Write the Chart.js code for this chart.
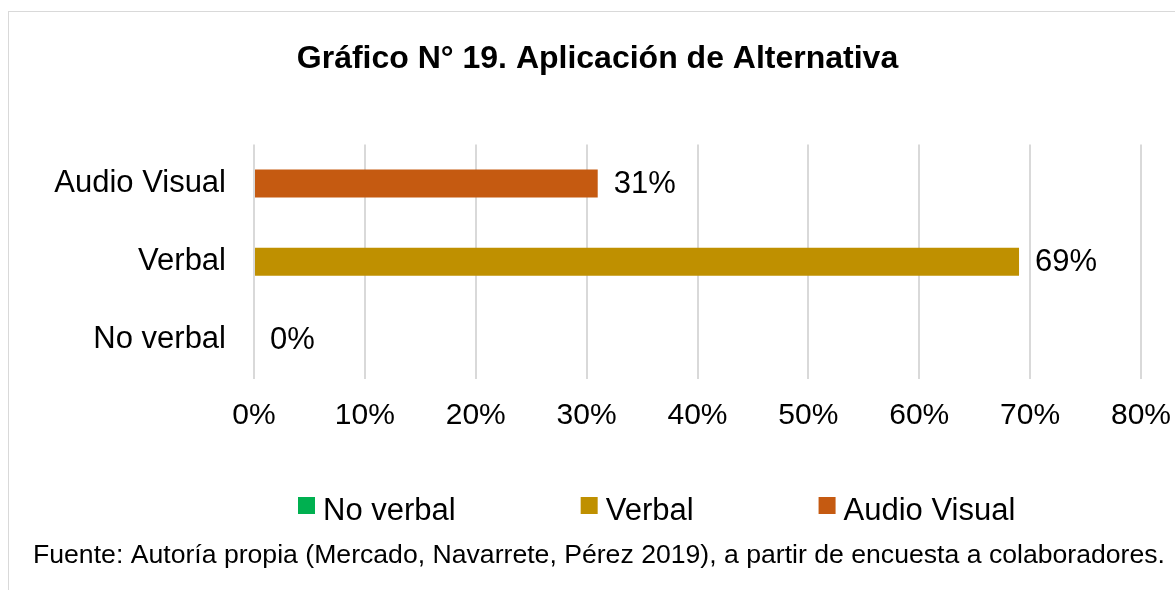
<!DOCTYPE html>
<html>
<head>
<meta charset="utf-8">
<script src="https://cdn.jsdelivr.net/npm/chart.js@4.4.1/dist/chart.umd.min.js"></script>
<style>
  html, body { margin: 0; padding: 0; background: #fff; overflow: hidden; }
  #wrap { position: relative; width: 1175px; height: 590px; }
  #frame { position: absolute; left: 8px; top: 11px; width: 2000px; height: 2000px;
           border: 1px solid #d9d9d9; box-sizing: border-box; }
  #chart { position: absolute; left: 0; top: 0; }
</style>
</head>
<body>
<div id="wrap">
  <div id="frame"></div>
  <canvas id="chart" width="1175" height="590"></canvas>
</div>
<script>
// data
const categories = ['No verbal', 'Verbal', 'Audio Visual'];
const percents = [0, 69, 31];
const barColors = ['#00B050', '#BF9000', '#C55A11'];
const xTicks = [0, 10, 20, 30, 40, 50, 60, 70, 80];
const chartTitle = 'Gráfico N° 19. Aplicación de Alternativa';
const sourceNote = 'Fuente: Autoría propia (Mercado, Navarrete, Pérez 2019), a partir de encuesta a colaboradores.';

const FONT = '"Liberation Sans", Arial, sans-serif';

// one dataset per category so each one gets its own legend entry
const datasets = categories.map(function (name, i) {
  return {
    label: name,
    data: categories.map(function (c, j) { return j === i ? percents[i] : null; }),
    backgroundColor: barColors[i],
    barThickness: 28,
    inflateAmount: 0
  };
});

const valueLabels = {
  id: 'valueLabels',
  afterDatasetsDraw(chart) {
    const ctx = chart.ctx;
    ctx.save();
    ctx.font = '31px ' + FONT;
    ctx.fillStyle = '#000';
    ctx.textAlign = 'left';
    ctx.textBaseline = 'middle';
    chart.data.datasets.forEach(function (ds, i) {
      const meta = chart.getDatasetMeta(i);
      meta.data.forEach(function (bar, j) {
        const v = ds.data[j];
        if (v === null || v === undefined) return;
        ctx.fillText(v + '%', bar.x + 16, bar.y + 1);
      });
    });
    ctx.restore();
  }
};

const bottomLegend = {
  id: 'bottomLegend',
  afterDraw(chart) {
    const ctx = chart.ctx;
    ctx.save();
    ctx.font = '31px ' + FONT;
    ctx.textBaseline = 'alphabetic';
    ctx.textAlign = 'left';
    let x = 298;
    chart.data.datasets.forEach(function (ds) {
      ctx.fillStyle = ds.backgroundColor;
      ctx.fillRect(x, 497, 17, 17);
      ctx.fillStyle = '#000';
      ctx.fillText(ds.label, x + 25, 520);
      x += 25 + ctx.measureText(ds.label).width + 125;
    });

    // source note
    ctx.font = '26px ' + FONT;
    const w = ctx.measureText(sourceNote).width;
    ctx.translate(33, 563);
    ctx.scale(1132 / w, 1);
    ctx.fillText(sourceNote, 0, 0);
    ctx.restore();
  }
};

new Chart(document.getElementById('chart'), {
  type: 'bar',
  data: { labels: categories, datasets: datasets },
  plugins: [valueLabels, bottomLegend],
  options: {
    indexAxis: 'y',
    responsive: false,
    animation: false,
    layout: { padding: { left: 54, right: 34, top: 0, bottom: 137 } },
    plugins: {
      legend: { display: false },
      tooltip: { enabled: false },
      title: {
        display: true,
        text: chartTitle,
        color: '#000',
        font: { family: FONT, size: 32, weight: 'bold', lineHeight: 1.2 },
        padding: { top: 40, bottom: 66 }
      }
    },
    scales: {
      x: {
        stacked: true,
        min: 0,
        max: 80,
        afterBuildTicks(scale) {
          scale.ticks = xTicks.map(function (v) { return { value: v }; });
        },
        afterFit(scale) {
          scale.paddingLeft = 0;
          scale.paddingRight = 0;
        },
        ticks: {
          color: '#000',
          padding: 19,
          font: { family: FONT, size: 30, lineHeight: 1.2 },
          callback: function (v) { return v + '%'; }
        },
        grid: { color: '#d9d9d9', lineWidth: 2, drawTicks: false },
        border: { display: false }
      },
      y: {
        stacked: true,
        reverse: true,
        afterFit(scale) { scale.width = 200; },
        ticks: {
          color: '#000',
          padding: 28,
          font: { family: FONT, size: 31, lineHeight: 1.2 }
        },
        grid: { display: false, drawTicks: false },
        border: { display: false }
      }
    }
  }
});
</script>
</body>
</html>
